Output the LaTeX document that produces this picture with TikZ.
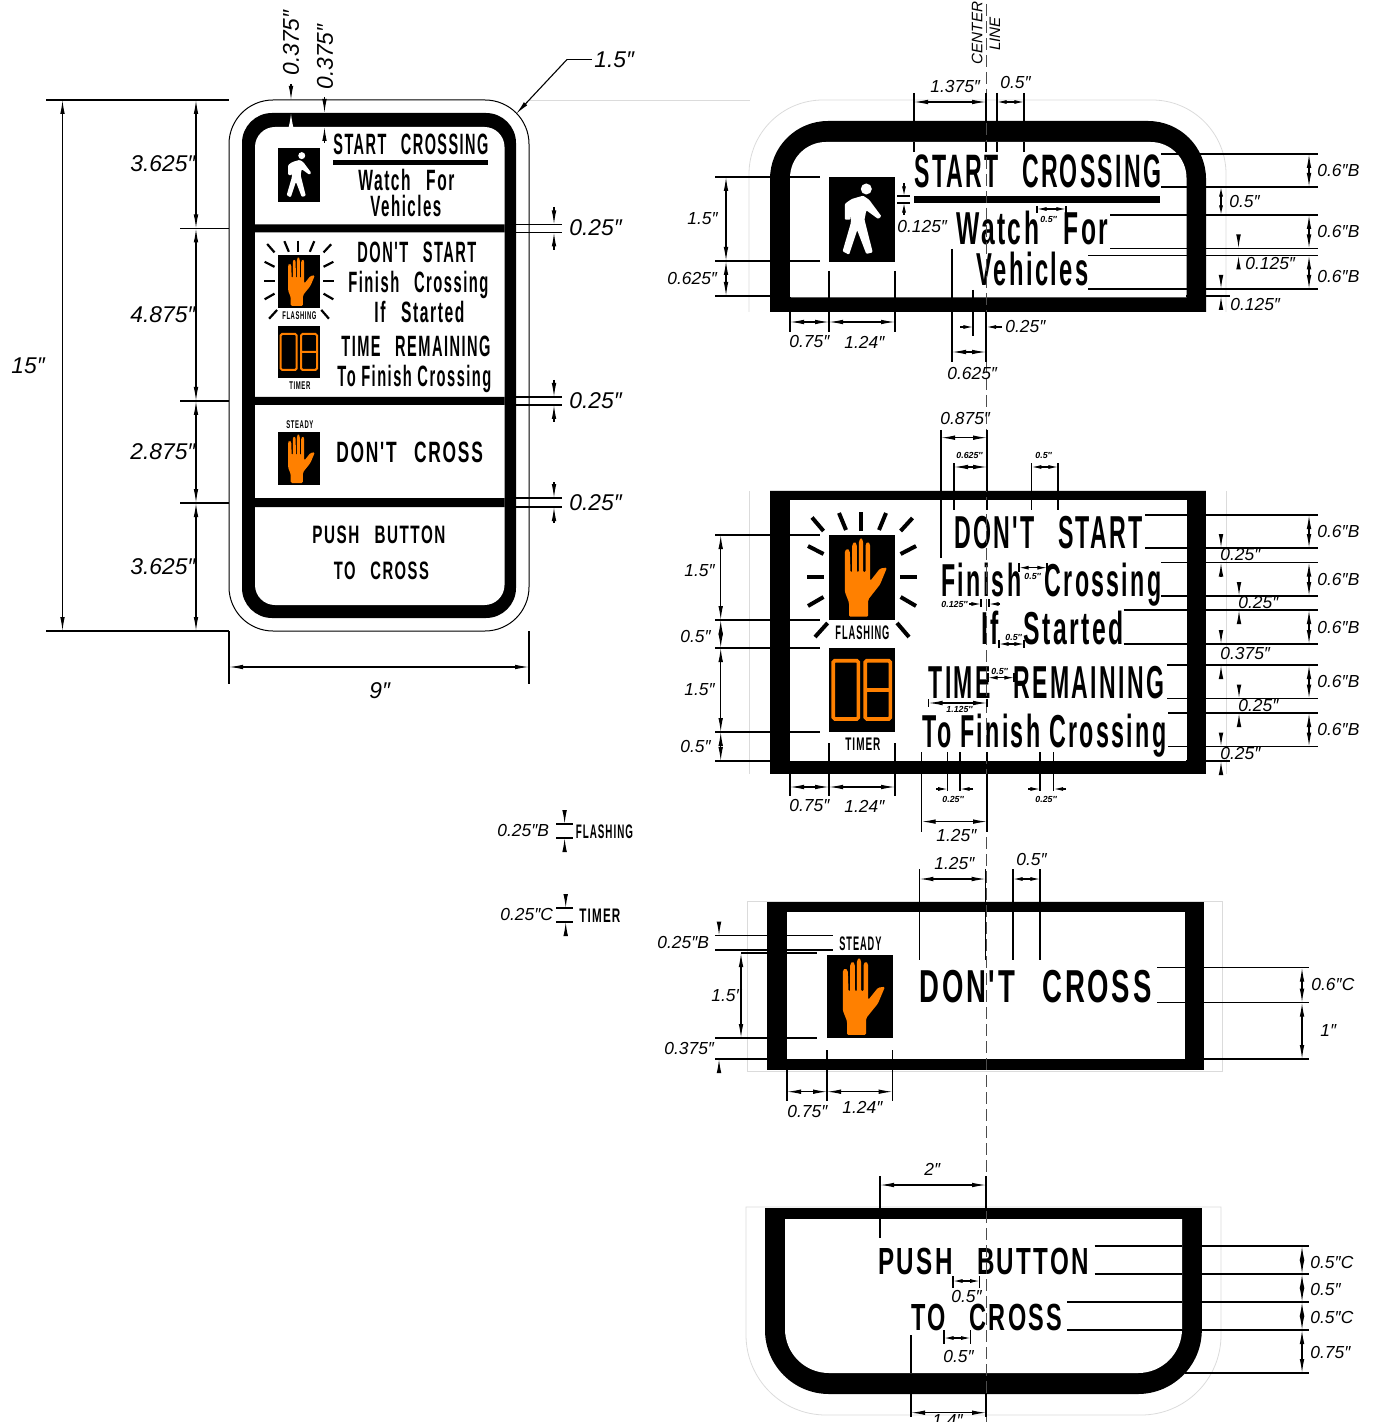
\documentclass[tikz,border=0pt]{standalone}
\usepackage{fontspec}
\usepackage{graphicx}
\usetikzlibrary{arrows.meta}
\newfontfamily\signfont[LetterSpace=10]{Liberation Sans Bold}
\setmainfont{Liberation Sans}
\definecolor{signalorange}{HTML}{FF8000}
\newcommand{\gp}{\hspace{1em}}
\newcommand{\signtext}[6]{\node[signlabel] (#1) at (#2,#4)
  {\resizebox{\fpeval{(#3-#2)*0.5}pt}{\height}{\fontsize{\fpeval{#5*0.7}}{\fpeval{#5*0.7}}\selectfont\signfont #6}};}
\tikzset{
  >={Latex[length=7pt,width=2.3pt]},
  shorttips/.style={>={Latex[length=4.8pt,width=2pt]}},
  signlabel/.style={inner sep=0,anchor=base west},
  dimline/.style={line width=0.55pt},
  faintline/.style={line width=0.4pt,black!14},
  dimbig/.style={inner sep=0,anchor=west,font=\itshape\fontsize{11.4}{11.4}\selectfont},
  dimmid/.style={inner sep=0,anchor=west,font=\itshape\fontsize{8.7}{8.7}\selectfont},
  dimtiny/.style={inner sep=0,anchor=west,font=\bfseries\itshape\fontsize{4.4}{4.4}\selectfont},
  pics/walkface/.style={code={
    \fill (-33,-42.5) rectangle (33,42.5);
    \fill[white] (4.3,-30.5) circle (5.5);
    \fill[white,rounded corners=0.5pt] (-10.3,-20.5) -- (1.1,-23.8) -- (7.1,-19.8) -- (19.4,-3.2) -- (16.2,-0.5)
      -- (4.3,-9.2) -- (2.5,0.2) -- (10.7,32.8) -- (4.3,34.5) -- (-4.8,10.8) -- (-13,35.2) -- (-19.4,31.8)
      -- (-11.2,3.5) -- (-11.2,-11.5) -- (-11.6,0.2) -- (-17.1,0.2) -- (-17.1,-15.8) -- cycle;
  }},
  pics/handface/.style={code={
    \fill (-33,-42.5) rectangle (33,42.5);
    \fill[signalorange,rounded corners=0.7pt] (-13,39.2) -- (-13,25.2) -- (-17.2,14.2) -- (-17.2,-26.5)
      -- (-14.8,-29) -- (-12.2,-26.5) -- (-11.5,-5) -- (-9.8,-5) -- (-9.8,-33) -- (-7.3,-36) -- (-5.2,-33)
      -- (-5,-5) -- (-3.2,-5) -- (-3.2,-36) -- (-0.9,-40) -- (1.2,-36) -- (1.2,-5) -- (3.5,-5)
      -- (3.5,-33) -- (5.8,-36) -- (8.2,-33) -- (8.2,3.5) -- (18,-9) -- (25,-10) -- (18,7)
      -- (6.2,22) -- (6.2,39.2) -- cycle;
  }},
  pics/timerface/.style={code={
    \fill (-33,-42) rectangle (33,42);
    \draw[signalorange,line width=#1,rounded corners=0.8pt] (-28.8,-29.3) rectangle (-3.6,29);
    \draw[signalorange,line width=#1,rounded corners=0.8pt] (3.2,-29.3) rectangle (28.3,29) (3.2,0) -- (28.3,0);
  }},
  pics/flashrays/.style={code={
    \foreach \xa/\ya/\xb/\yb in {-50/-60/-38.5/-46.5,-23/-64.5/-16/-47.5,-1/-65.5/-1/-46.5,24/-64.5/17/-47.5,
      50.5/-59.5/38.6/-46.5,-54/-31.5/-38.5/-23.5,54/-31.5/38.6/-23.5,-55/-0.5/-38/-0.5,38/-0.5/54.6/-0.5,
      -54/28.5/-38.5/19.5,54/28.5/38.6/19.5,-47/59.5/-34.4/45.5,47/59.5/35/45.5}
      \draw[line width=#1] (\xa,\ya) -- (\xb,\yb);
  }}
}
\begin{document}
\begin{tikzpicture}[x=0.5pt,y=-0.5pt]
    \useasboundingbox (0,0) rectangle (1376,1422);
    \draw[faintline] (529,100) -- (750,100);
    \draw[faintline,rounded corners=37pt] (749,312) -- (749,100) -- (1226,100) -- (1226,312);
    \draw[faintline] (749,491) -- (749,774) (1226,491) -- (1226,774) (770,490) -- (1206,490);
    \draw[faintline] (747.4,901) rectangle (1222,1071);
    \draw[faintline] (746,1207) [rounded corners=40pt] -- (746,1415) -- (1221,1415) [sharp corners] -- (1221,1207) -- cycle;
    \begin{scope}
      \draw[line width=0.5pt,rounded corners=22pt] (229,100) rectangle (529,631);
      \fill[rounded corners=15pt] (242,113) rectangle (516,618);
      \fill[white,rounded corners=10pt] (255,127) rectangle (504.5,605);
      \fill (255,224.5) rectangle (504.5,232.5) (255,397) rectangle (504.5,405) (255,498) rectangle (504.5,507);
      \fill (333,160) rectangle (488,165);
      \pic[xscale=.636,yscale=.635] (leftwalk) at (299,175) {walkface};
      \pic[xscale=.636,yscale=.625] (lefthand) at (299,281.5) {handface};
      \pic[xscale=.636,yscale=.625] (leftrays) at (299,281.5) {flashrays=1.1pt};
      \pic[xscale=.636,yscale=.62] (lefttimer) at (299,352) {timerface=1pt};
      \pic[xscale=.636,yscale=.625] (leftsteady) at (299,458.5) {handface};
      \signtext{leftstart}{333}{488}{155}{21}{START\gp CROSSING}
      \signtext{leftwatch}{358}{454}{191}{21}{Watch\gp For}
      \signtext{leftveh}{370}{441}{217}{21}{Vehicles}
      \signtext{leftdont}{357}{476}{263}{21}{DON'T\gp START}
      \signtext{leftfinish}{348}{488}{293}{21}{Finish\gp Crossing}
      \signtext{leftif}{374}{464}{323}{21}{If\gp Started}
      \signtext{lefttime}{341}{490}{357}{21}{TIME\gp REMAINING}
      \signtext{lefttofin}{337}{491}{387}{21}{To Finish Crossing}
      \signtext{leftflash}{282}{316}{320}{8}{FLASHING}
      \signtext{lefttimerw}{289}{310}{390}{8}{TIMER}
      \signtext{leftst}{286}{313}{429}{8}{STEADY}
      \signtext{leftcross}{336}{482.5}{462}{21}{DON'T\gp CROSS}
      \signtext{leftpush}{312}{445}{543}{18}{PUSH\gp BUTTON}
      \signtext{lefttocross}{333.5}{428.5}{579}{18}{TO\gp CROSS}
    \end{scope}
    \begin{scope}
      \fill (770,312) [rounded corners=29pt] -- (770,121) -- (1206,121) [sharp corners] -- (1206,312) -- cycle;
      \fill[white] (790,297.3) [rounded corners=18pt] -- (790,142) -- (1186.5,142) [sharp corners] -- (1186.5,297.3) -- cycle;
      \fill (914,196) rectangle (1160,203);
      \pic (walk) at (862,219.5) {walkface};
      \signtext{start}{914}{1161}{187.5}{33.5}{START\gp CROSSING}
      \signtext{watch}{956}{1108}{245}{33}{Watch\gp For}
      \signtext{veh}{976.4}{1088}{286}{33}{Vehicles}
    \end{scope}
    \begin{scope}
      \fill (770,491) rectangle (1206,774);
      \fill[white] (790,500) rectangle (1186.5,761);
      \pic (hand) at (862,577.5) {handface};
      \pic (rays) at (862,577.5) {flashrays=2pt};
      \pic (timer) at (862,690) {timerface=1.8pt};
      \signtext{flash}{835}{889}{639}{14}{FLASHING}
      \signtext{timerw}{845}{880}{750}{13}{TIMER}
      \signtext{dont}{954}{1142.6}{548}{33}{DON'T\gp START}
      \signtext{finish}{941}{1161}{596}{33}{Finish\gp Crossing}
      \signtext{ifs}{981}{1123.5}{644}{33}{If\gp Started}
      \signtext{timeb}{928.5}{1163.6}{698}{33}{TIME\gp REMAINING}
      \signtext{tofin}{922}{1166}{747}{33}{To Finish Crossing}
    \end{scope}
    \begin{scope}
      \fill (767.4,902) rectangle (1204,1070);
      \fill[white] (787,912) rectangle (1185,1059);
      \pic[xscale=1,yscale=.98] (steady) at (860,996.5) {handface};
      \signtext{steadyw}{839}{881}{950.7}{14}{STEADY}
      \signtext{cross}{919}{1151}{1002}{33}{DON'T\gp CROSS}
    \end{scope}
    \begin{scope}
      \fill (765,1208) [rounded corners=32pt] -- (765,1394) -- (1201.8,1394) [sharp corners] -- (1201.8,1208) -- cycle;
      \fill[white] (785,1219) [rounded corners=22pt] -- (785,1373) -- (1182,1373) [sharp corners] -- (1182,1219) -- cycle;
      \signtext{push}{878}{1089}{1274}{27}{PUSH\gp BUTTON}
      \signtext{tocross}{911}{1062}{1330}{27}{TO\gp CROSS}
    \end{scope}
    \signtext{flashside}{575.4}{632.6}{838}{14}{FLASHING}
    \signtext{timerside}{579}{620}{922}{14}{TIMER}
    \draw[line width=0.5pt,black!70,dash pattern=on 6pt off 2.5pt] (986,4) -- (986,1422);
    \begin{scope}
      \foreach \x/\ya/\yb in {229/631/684,529/631/684,914/93/121,914/142/152,986/93/121,986/142/152,997/93/121,997/142/152,
        1024/93/121,1024/142/152,790/297/332,829/271/332,895/271/332,973/290/336,952/249/362,986/312/362,
        941/430/558,987/430/491,987/500/510,954/463/491,954/500/510,1031.7/463/491,1031.7/500/510,1058/463/491,1058/500/510,
        790/774/796,829/743/761,829/774/796,895/743/761,895/774/796,947.7/752/761,947.7/774/791,960/752/761,960/774/791,
        1040/752/761,1040/774/791,1053.6/752/761,1053.6/774/791,921.6/752/761,921.6/774/832,987/752/761,987/774/832,
        981/599/607,989/599/607,1037/206/213,1066/206/213,1019/563/572,1047/563/572,999/640/648,1024/640/648,
        988/673/682,1014/673/682,928.5/699/707,987/699/707,
        919.4/869/902,919.4/912/960,985.7/869/902,985.7/912/960,1013/869/902,1013/912/960,1040/869/902,1040/912/960,
        787/1070/1101,827/1050/1059,827/1070/1101,892.6/1050/1059,892.6/1070/1101,
        880/1176/1208,880/1219/1238,986/1176/1208,953/1276/1288,979.7/1276/1288,944/1330/1344,970.6/1330/1344,
        911/1335/1373,911/1394/1417,986/1394/1417}
        \draw[dimline] (\x,\ya) -- (\x,\yb);
      \foreach \xa/\xb/\y in {46/229/100,46/229/631,180/229/228.5,180/229/401,180/229/503,
        516/562/224.5,516/562/232.5,516/562/397,516/562/405,516/562/498,516/562/507,
        1161/1318/154,1161/1318/187,1110/1318/215,1110/1318/248.5,1088/1318/255.5,1088/1318/289,1186/1230/296,
        715/770/177,790/820/177,715/770/261,790/820/261,715/770/296,897/910/196,897/910/203,
        1145/1318/515,1145/1318/548,1161/1318/562.5,1161/1318/596,1123.5/1318/610,1123.5/1318/644,
        1167/1318/665,1167/1318/698.5,1168/1318/713,1168/1318/746.5,1186/1230/761,
        715/770/535,790/820/535,715/770/620,790/820/620,715/770/648,790/820/648,715/770/732,790/820/732,715/770/761,
        556/573/824,556/573/838,556/573/908,556/573/922,
        715/767/935.7,787/833/935.7,715/767/950,787/833/950,741/767/953,787/817/953,
        715/767/1038,787/817/1038,715/767/1059,1157/1185/967.7,1204/1308.6/967.7,1157/1185/1002.7,1204/1308.6/1002.7,1204/1308.6/1059,
        1094.6/1182/1246,1202/1309/1246,1094.6/1182/1274,1202/1309/1274,1067/1182/1302,1202/1309/1302,
        1067/1182/1330,1202/1309/1330,1185/1309/1373}
        \draw[dimline] (\xa,\y) -- (\xb,\y);
      \draw[dimline] (567,59.5) -- (592,59.5);
      \draw[dimline,->] (567,59.5) -- (516,114);
      \foreach \x/\ya/\yb in {62.5/100/631,196/100/228.5,196/228.5/401,196/401/503,196/503/631,
        726/177/261,726/261/296,1309/154/187,1309/215/248.5,1309/255.5/289,
        720.7/535/620,720.7/620/648,720.7/648/732,720.7/732/761,
        1309/515/548,1309/562.5/596,1309/610/644,1309/665/698.5,1309/713/746.5,
        741/953/1038,1302/967.7/1002.7,1302/1002.7/1059,
        1302/1246/1274,1302/1274/1302,1302/1302/1330,1302/1330/1373}
        \draw[dimline,<->] (\x,\ya) -- (\x,\yb);
      \foreach \xa/\xb/\y in {229/529/667,914/986/102,790/829/322,829/895/322,952/986/352,
        941/987/437.7,954/987/467,790/829/787,829/895/787,921.6/987/821.6,928.5/987/703,
        919.4/985.7/879,787/827/1091.7,827/892.6/1091.7,880/986/1185,911/986/1412.7}
        \draw[dimline,<->] (\xa,\y) -- (\xb,\y);
      \foreach \x/\ya/\yb in {554/207/224.5,554/250/232.5,554/380/397,554/422/405,554/482/498,554/523/507,
        291/84/100,324.5/97/113,324.5/143/127,
        1238.5/235/248.5,1238.5/268/255.5,1221/277/289,1221/310/296,
        1221/535.7/548,1221/575.6/562.5,1239/583/596,1239/622.6/610,1221/631/644,1221/677.6/665,
        1239/686/698.5,1239/725.6/713,1221/734/746.5,1221/773/761,
        564.6/812/824,564.6/851/838,565.7/896/908,565.7/935/922,719/923/935.7,719/1072/1059}
        \draw[dimline,->] (\x,\ya) -- (\x,\yb);
      \draw[dimline,white,->] (291,130) -- (291,113);
      \begin{scope}[shorttips]
        \foreach \xa/\xb/\y in {997/1024/102,1037/1066/209,1031.7/1058/467,1019/1047/567.7,999/1024/644,988/1014/677.7,
          1013/1040/879,953/979.7/1281,944/970.6/1338}
          \draw[dimline,<->] (\xa,\y) -- (\xb,\y);
        \draw[dimline,<->] (1221,187) -- (1221,215);
        \foreach \x/\ya/\yb in {904/183/196,904/215/203}
          \draw[dimline,->] (\x,\ya) -- (\x,\yb);
        \foreach \xa/\xb/\y in {960/973/327,1002/986.5/327,936/947.7/789,973/960/789,1028/1040/789,1066/1053.6/789,
          969/981/604,1000/989/604}
          \draw[dimline,->] (\xa,\y) -- (\xb,\y);
      \end{scope}
    \end{scope}
    \node[rotate=90,inner sep=0,font=\itshape\fontsize{7.6}{7.6}\selectfont] (center) at (977,33) {CENTER};
    \node[rotate=90,inner sep=0,font=\itshape\fontsize{7.6}{7.6}\selectfont] (linew) at (995,34) {LINE};
    \node[dimbig,rotate=90] (topa) at (291,76) {0.375″};
    \node[dimbig,rotate=90] (topb) at (325,90) {0.375″};
    \foreach \x/\y/\t [count=\i] in {130/164/3.625″,130/315/4.875″,130/452/2.875″,130/567/3.625″,11/366/15″,
      569/228/0.25″,569/401/0.25″,569/503/0.25″,369/691/9″,594/60/1.5″}
      \node[dimbig] (big\i) at (\x,\y) {\t};
    \foreach \x/\y/\t [count=\i] in {930/87/1.375″,1000/83/0.5″,687/219/1.5″,667/279/0.625″,789/342/0.75″,844/342/1.24″,
      1005/327/0.25″,947/374/0.625″,897/227/0.125″,1317/171/0.6″B,1317/232/0.6″B,1317/277/0.6″B,1229/202/0.5″,
      1245/264/0.125″,1230/305/0.125″,
      940/419/0.875″,684/571/1.5″,680/637/0.5″,684/690/1.5″,680/747/0.5″,789/806/0.75″,844/806/1.24″,936/836/1.25″,
      1317/532/0.6″B,1317/580/0.6″B,1317/628/0.6″B,1317/682/0.6″B,1317/730/0.6″B,
      1220/555/0.25″,1238/603/0.25″,1220/654/0.375″,1238/706/0.25″,1220/754/0.25″,
      497/831/0.25″B,500/915/0.25″C,934/864/1.25″,1016/860/0.5″,657/943/0.25″B,711/996/1.5″,664/1048/0.375″,
      787/1111/0.75″,842/1107/1.24″,1311/985/0.6″C,1320/1031/1″,
      924/1169/2″,951/1296/0.5″,943/1356/0.5″,932/1420/1.4″,
      1310/1262/0.5″C,1310/1289/0.5″,1310/1317/0.5″C,1310/1352/0.75″}
      \node[dimmid] (mid\i) at (\x,\y) {\t};
    \foreach \x/\y/\t [count=\i] in {1040/219/0.5″,956/455/0.625″,1035/455/0.5″,942/799/0.25″,1035/799/0.25″,
      1024/576/0.5″,941/604/0.125″,1005/637/0.5″,991/671/0.5″,946/709/1.125″}
      \node[dimtiny] (tiny\i) at (\x,\y) {\t};
\end{tikzpicture}
\end{document}
